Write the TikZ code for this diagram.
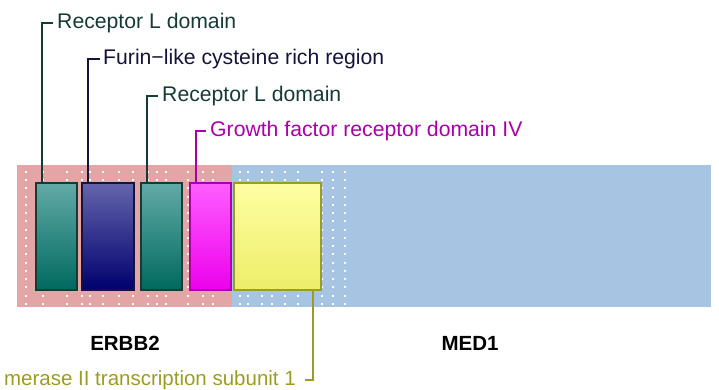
\documentclass[tikz,border=0pt]{standalone}
\usepackage{fontspec}
\setmainfont{Liberation Sans}
\definecolor{pinkbg}{HTML}{E3A5A5}
\definecolor{bluebg}{HTML}{A8C4E3}
\definecolor{tealtop}{HTML}{62AAA7}
\definecolor{tealbot}{HTML}{00695F}
\definecolor{tealln}{HTML}{163A36}
\definecolor{navytop}{HTML}{6464AC}
\definecolor{navybot}{HTML}{00006E}
\definecolor{navyln}{HTML}{14143A}
\definecolor{magtop}{HTML}{FF5EFF}
\definecolor{magbot}{HTML}{EC00EC}
\definecolor{magln}{HTML}{AA00AA}
\definecolor{yeltop}{HTML}{FFFFA2}
\definecolor{yelbot}{HTML}{EDED6A}
\definecolor{olive}{HTML}{9C9C24}
\tikzset{
  dom/.style={draw, line width=2pt, rectangle, anchor=north west, inner sep=0pt},
  leader/.style={line width=1.8pt},
  lab/.style={anchor=west, inner sep=0pt, font=\fontsize{21.2}{25}\selectfont},
  protlab/.style={inner sep=0pt, font=\fontsize{20.5}{24}\selectfont\bfseries},
}
\begin{document}
\begin{tikzpicture}[x=1pt,y=-1pt]
\useasboundingbox (0,0) rectangle (719,390);
% backgrounds
\fill[pinkbg] (17,165) rectangle (232,307);
\fill[bluebg] (232,165) rectangle (711,307);
% dots
\foreach \cx in {26,42.7,66.7,81.7,90,103.3,119.3,132.7,148.3,156.7,165.7,188.3,203.3,213.3,240,248.3,261.7,271.7,285,298.3,321.7,332.7,345}{
  \foreach \k in {0,...,16}{
    \fill[white] ({\cx-1},{171.7+8.27*\k-1}) rectangle ++(2,2);
  }
}
% domains
\node[dom, draw=tealln, top color=tealtop, bottom color=tealbot, minimum width=41.5pt, minimum height=107pt] (d1) at (34.7,182) {};
\node[dom, draw=navyln, top color=navytop, bottom color=navybot, minimum width=52pt, minimum height=107pt] (d2) at (81.2,182) {};
\node[dom, draw=tealln, top color=tealtop, bottom color=tealbot, minimum width=41pt, minimum height=107pt] (d3) at (140.2,182) {};
\node[dom, draw=magln, top color=magtop, bottom color=magbot, minimum width=41.5pt, minimum height=107pt] (d4) at (188.8,182) {};
\node[dom, draw=olive, top color=yeltop, bottom color=yelbot, minimum width=87.5pt, minimum height=107pt] (d5) at (232.8,182) {};
% labels
\node[lab, text=tealln] (l1) at (57,23) {Receptor L domain};
\node[lab, text=navyln] (l2) at (103,59) {Furin−like cysteine rich region};
\node[lab, text=tealln] (l3) at (162,96) {Receptor L domain};
\node[lab, text=magln] (l4) at (210,131) {Growth factor receptor domain IV};
\node[lab, anchor=east, text=olive, font=\fontsize{20.5}{24}\selectfont] (l5) at (296,380) {merase II transcription subunit 1};
% leaders
\draw[leader, tealln] (d1.north west -| 41.7,0) |- ([xshift=-4pt]l1.west);
\draw[leader, navyln] (d2.north west -| 88.3,0) |- ([xshift=-3pt]l2.west);
\draw[leader, tealln] (d3.north west -| 147.3,0) |- ([xshift=-4pt]l3.west);
\draw[leader, magln] (d4.north west -| 196,0) |- ([xshift=-4pt]l4.west);
\draw[leader, olive] (d5.south west -| 312.7,0) |- ([xshift=9pt]l5.east);
% protein names
\node[protlab] (p1) at (125,343) {ERBB2};
\node[protlab] (p2) at (470,343) {MED1};
\end{tikzpicture}
\end{document}
